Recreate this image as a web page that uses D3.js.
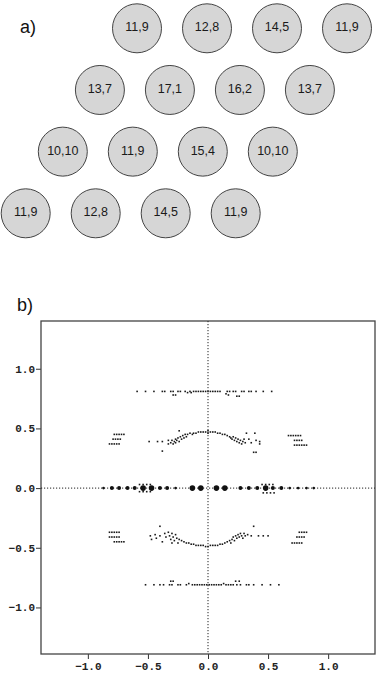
<!DOCTYPE html>
<html>
<head>
<meta charset="utf-8">
<script src="https://cdn.jsdelivr.net/npm/d3@7"></script>
<style>
  body { margin: 0; background: #fff; }
  svg { display: block; }
</style>
</head>
<body>
<div id="vizDiv"></div>
<script>
var width = 378;
var height = 674;

// panel a: circle labels, row by row
var circleRows = [
    ["11,9", "12,8", "14,5", "11,9"],
    ["13,7", "17,1", "16,2", "13,7"],
    ["10,10", "11,9", "15,4", "10,10"],
    ["11,9", "12,8", "14,5", "11,9"]
];

// panel b: tick values
var tickValues = [-1.0, -0.5, 0.0, 0.5, 1.0];

// big dots on the zero line, x and size class (1 small .. 3 large)
var zeroX = [-0.87, -0.80, -0.74, -0.67, -0.61, -0.54, -0.47, -0.40, -0.34, -0.27, -0.13, -0.06,
             0.07, 0.14, 0.27, 0.34, 0.41, 0.48, 0.54, 0.61, 0.68, 0.75, 0.82, 0.88];
var zeroSize = [1, 2, 2, 2, 2, 3, 3, 2, 2, 1, 3, 3,
                3, 3, 2, 2, 2, 3, 2, 2, 1, 1, 1, 1];

// small points [x, y]
var zeroCluster = [[-0.57, 0.03], [-0.54, 0.03], [-0.51, 0.03], [-0.48, 0.03],
    [-0.57, -0.03], [-0.54, -0.03], [-0.51, -0.03], [-0.48, -0.03],
    [0.45, 0.03], [0.48, 0.03], [0.51, 0.03], [0.54, 0.03],
    [0.46, -0.04], [0.49, -0.04], [0.52, -0.04], [0.55, -0.04]];

var topRow = [[-0.59, 0.81], [-0.52, 0.81], [-0.45, 0.81], [-0.38, 0.81], [-0.36, 0.81],
    [-0.31, 0.81], [-0.29, 0.81], [-0.29, 0.78], [-0.27, 0.78], [-0.25, 0.81], [-0.23, 0.81],
    [-0.19, 0.81], [-0.17, 0.80], [-0.15, 0.81], [-0.14, 0.80], [-0.12, 0.81], [-0.10, 0.81],
    [-0.08, 0.81], [-0.06, 0.81], [-0.04, 0.81], [-0.02, 0.81], [0.00, 0.81], [0.02, 0.81],
    [0.04, 0.81], [0.06, 0.81], [0.08, 0.81], [0.10, 0.81], [0.16, 0.81], [0.18, 0.81],
    [0.15, 0.79], [0.17, 0.78], [0.21, 0.81], [0.23, 0.81], [0.24, 0.77], [0.26, 0.77],
    [0.28, 0.81], [0.30, 0.81], [0.34, 0.81], [0.36, 0.81], [0.40, 0.81], [0.46, 0.81], [0.53, 0.81]];

var bottomRow = [[-0.52, -0.81], [-0.45, -0.81], [-0.40, -0.81], [-0.37, -0.81], [-0.32, -0.81],
    [-0.30, -0.81], [-0.31, -0.78], [-0.29, -0.78], [-0.25, -0.81], [-0.23, -0.81], [-0.18, -0.81],
    [-0.16, -0.80], [-0.13, -0.81], [-0.11, -0.81], [-0.09, -0.81], [-0.07, -0.81], [-0.05, -0.81],
    [-0.03, -0.81], [-0.01, -0.81], [0.01, -0.81], [0.03, -0.81], [0.05, -0.81], [0.07, -0.81],
    [0.09, -0.81], [0.11, -0.81], [0.13, -0.80], [0.15, -0.81], [0.17, -0.81], [0.19, -0.81],
    [0.21, -0.81], [0.24, -0.81], [0.23, -0.78], [0.27, -0.81], [0.26, -0.78], [0.32, -0.81],
    [0.34, -0.81], [0.38, -0.81], [0.45, -0.81], [0.52, -0.81], [0.59, -0.81]];

var topArc = [[-0.49, 0.39], [-0.42, 0.39], [-0.38, 0.39], [-0.38, 0.31],
    [-0.33, 0.40], [-0.33, 0.37], [-0.31, 0.38], [-0.30, 0.40], [-0.29, 0.37], [-0.28, 0.39],
    [-0.27, 0.41], [-0.27, 0.38], [-0.26, 0.40], [-0.25, 0.42], [-0.24, 0.39], [-0.24, 0.48],
    [-0.23, 0.43], [-0.22, 0.41], [-0.21, 0.44], [-0.20, 0.42], [-0.19, 0.45], [-0.18, 0.43],
    [-0.17, 0.45], [-0.15, 0.46], [-0.13, 0.45], [-0.12, 0.46], [-0.10, 0.46], [-0.08, 0.47],
    [-0.06, 0.47], [-0.04, 0.47], [-0.02, 0.47], [0.00, 0.48], [0.00, 0.46], [0.02, 0.47],
    [0.04, 0.47], [0.06, 0.47], [0.08, 0.46], [0.10, 0.46], [0.12, 0.45], [0.14, 0.45],
    [0.16, 0.44], [0.18, 0.43], [0.19, 0.42], [0.20, 0.41], [0.21, 0.43], [0.22, 0.40],
    [0.23, 0.42], [0.24, 0.39], [0.25, 0.41], [0.26, 0.38], [0.27, 0.40], [0.28, 0.37],
    [0.29, 0.39], [0.30, 0.41], [0.31, 0.38], [0.32, 0.46], [0.34, 0.41], [0.36, 0.38],
    [0.39, 0.46], [0.40, 0.40], [0.43, 0.37], [0.43, 0.39], [0.38, 0.30], [0.40, 0.30]];

var bottomArc = [[-0.40, -0.32], [0.38, -0.32], [-0.48, -0.40], [-0.47, -0.43],
    [-0.44, -0.39], [-0.43, -0.42], [-0.40, -0.40], [-0.38, -0.45], [-0.36, -0.38], [-0.35, -0.41],
    [-0.33, -0.37], [-0.32, -0.40], [-0.31, -0.43], [-0.30, -0.38], [-0.29, -0.41], [-0.28, -0.44],
    [-0.27, -0.39], [-0.26, -0.42], [-0.30, -0.46], [-0.25, -0.46], [-0.24, -0.43], [-0.22, -0.44],
    [-0.20, -0.45], [-0.18, -0.46], [-0.16, -0.46], [-0.14, -0.47], [-0.12, -0.47], [-0.10, -0.48],
    [-0.08, -0.48], [-0.06, -0.48], [-0.04, -0.48], [-0.02, -0.49], [0.00, -0.49], [0.02, -0.48],
    [0.04, -0.48], [0.06, -0.48], [0.08, -0.48], [0.10, -0.47], [0.12, -0.47], [0.14, -0.46],
    [0.16, -0.45], [0.18, -0.44], [0.19, -0.46], [0.20, -0.43], [0.21, -0.41], [0.22, -0.44],
    [0.23, -0.40], [0.24, -0.42], [0.25, -0.39], [0.26, -0.41], [0.27, -0.38], [0.28, -0.40],
    [0.29, -0.42], [0.30, -0.38], [0.31, -0.40], [0.33, -0.39], [0.36, -0.40], [0.42, -0.40],
    [0.46, -0.40], [0.50, -0.40]];

var sideClusters = [
    // upper left
    [-0.78, 0.45], [-0.76, 0.45], [-0.74, 0.45], [-0.72, 0.45], [-0.70, 0.45],
    [-0.79, 0.41], [-0.77, 0.41], [-0.75, 0.41], [-0.73, 0.41],
    [-0.82, 0.37], [-0.80, 0.37], [-0.78, 0.37], [-0.76, 0.37], [-0.74, 0.37],
    // upper right
    [0.67, 0.44], [0.69, 0.44], [0.71, 0.44], [0.73, 0.44], [0.75, 0.44], [0.77, 0.44],
    [0.72, 0.40], [0.74, 0.40], [0.76, 0.40], [0.78, 0.40],
    [0.72, 0.36], [0.74, 0.36], [0.76, 0.36], [0.78, 0.36], [0.80, 0.36], [0.82, 0.36],
    // lower left
    [-0.82, -0.37], [-0.80, -0.37], [-0.78, -0.37], [-0.76, -0.37], [-0.74, -0.37],
    [-0.82, -0.41], [-0.80, -0.41], [-0.78, -0.41], [-0.76, -0.41], [-0.74, -0.41],
    [-0.78, -0.45], [-0.76, -0.45], [-0.74, -0.45], [-0.72, -0.45], [-0.70, -0.45],
    // lower right
    [0.76, -0.37], [0.78, -0.37], [0.80, -0.37], [0.82, -0.37],
    [0.74, -0.41], [0.76, -0.41], [0.78, -0.41], [0.80, -0.41],
    [0.70, -0.46], [0.72, -0.46], [0.74, -0.46], [0.76, -0.46], [0.78, -0.46]
];

var svg = d3.select("#vizDiv")
    .append("svg")
    .attr("width", width)
    .attr("height", height)
    .style("font-family", "Arial, 'Liberation Sans', sans-serif");

// ---------- panel a ----------
svg.append("text")
    .attr("x", 20)
    .attr("y", 33)
    .attr("font-size", 18)
    .attr("fill", "#111")
    .text("a)");

var colX = d3.scaleLinear().domain([0, 3]).range([137, 347]);
var rowY = d3.scaleLinear().domain([0, 3]).range([28.3, 213.3]);
var rowShift = 0.53;

circleRows.forEach(function(row, r) {
    var g = svg.append("g");
    row.forEach(function(label, c) {
        var cx = colX(c - r * rowShift);
        var cy = rowY(r);
        g.append("circle")
            .attr("cx", cx)
            .attr("cy", cy)
            .attr("r", 24.5)
            .attr("fill", "#d6d6d6")
            .attr("stroke", "#444")
            .attr("stroke-width", 1);
        g.append("text")
            .attr("x", cx)
            .attr("y", cy + 3)
            .attr("text-anchor", "middle")
            .attr("font-size", 12.5)
            .attr("fill", "#1a1a1a")
            .text(label);
    });
});

// ---------- panel b ----------
svg.append("text")
    .attr("x", 17)
    .attr("y", 311)
    .attr("font-size", 18)
    .attr("fill", "#111")
    .text("b)");

var plotLeft = 41, plotRight = 375, plotTop = 321, plotBottom = 654;

var x = d3.scaleLinear().domain([-1.39, 1.39]).range([plotLeft, plotRight]);
var y = d3.scaleLinear().domain([-1.39, 1.40]).range([plotBottom, plotTop]);

var fmt = d3.format(".1f");

var yAxis = svg.append("g")
    .attr("transform", "translate(" + plotLeft + ",0)")
    .call(d3.axisLeft(y).tickValues(tickValues).tickSize(5).tickFormat(fmt));

var xAxis = svg.append("g")
    .attr("transform", "translate(0," + plotBottom + ")")
    .call(d3.axisBottom(x).tickValues(tickValues).tickSize(5).tickFormat(fmt));

[yAxis, xAxis].forEach(function(ax) {
    ax.select(".domain").remove();
    ax.selectAll(".tick line").attr("stroke", "#333").attr("stroke-width", 1);
    ax.selectAll(".tick text")
        .attr("font-family", "'Liberation Mono', 'DejaVu Sans Mono', monospace")
        .attr("font-weight", "bold")
        .attr("font-size", 11)
        .attr("fill", "#222");
});
yAxis.selectAll(".tick text").attr("x", -6);
xAxis.selectAll(".tick text").attr("y", 8);

// frame
svg.append("rect")
    .attr("x", plotLeft)
    .attr("y", plotTop)
    .attr("width", plotRight - plotLeft)
    .attr("height", plotBottom - plotTop)
    .attr("fill", "none")
    .attr("stroke", "#444")
    .attr("stroke-width", 1.3);

// dotted zero lines
svg.append("line")
    .attr("x1", x(0)).attr("x2", x(0))
    .attr("y1", plotTop).attr("y2", plotBottom)
    .attr("stroke", "#222")
    .attr("stroke-width", 1)
    .attr("stroke-dasharray", "1.2,1.8");

svg.append("line")
    .attr("x1", plotLeft).attr("x2", plotRight)
    .attr("y1", y(0)).attr("y2", y(0))
    .attr("stroke", "#222")
    .attr("stroke-width", 1)
    .attr("stroke-dasharray", "1.2,1.8");

// small points
var smallPts = [].concat(topRow, bottomRow, topArc, bottomArc, sideClusters, zeroCluster);
svg.append("g")
    .selectAll("rect")
    .data(smallPts)
    .enter()
    .append("rect")
    .attr("x", function(d) { return x(d[0]) - 0.8; })
    .attr("y", function(d) { return y(d[1]) - 0.8; })
    .attr("width", 1.6)
    .attr("height", 1.6)
    .attr("fill", "#1a1a1a");

// zero-line dots
var sizeR = d3.scaleOrdinal().domain([1, 2, 3]).range([1.3, 2.0, 2.8]);
svg.append("g")
    .selectAll("circle")
    .data(zeroX)
    .enter()
    .append("circle")
    .attr("cx", function(d) { return x(d); })
    .attr("cy", y(0))
    .attr("r", function(d, i) { return sizeR(zeroSize[i]); })
    .attr("fill", "#111");
</script>
</body>
</html>
